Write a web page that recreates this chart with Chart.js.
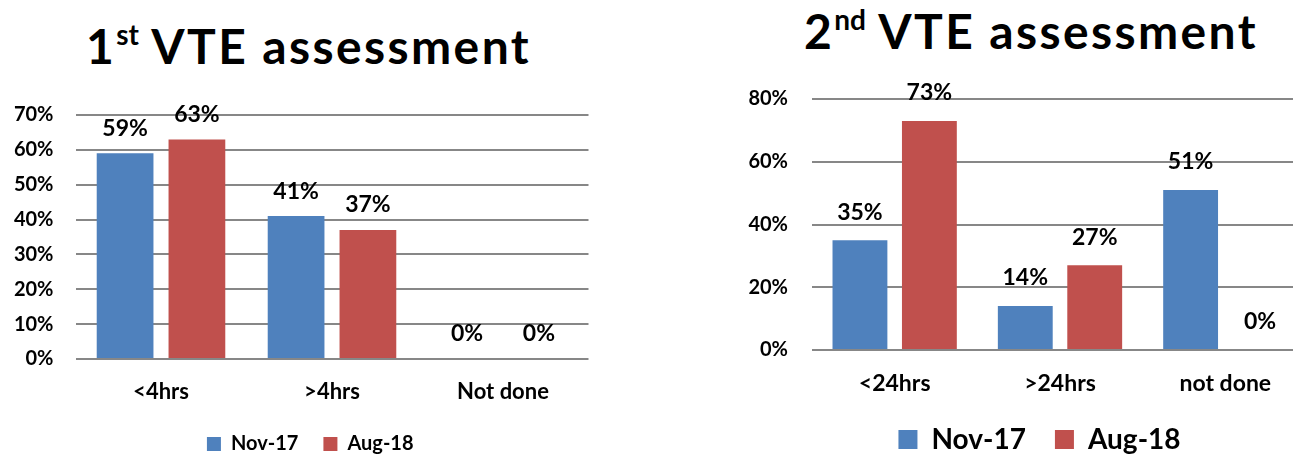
<!DOCTYPE html>
<html>
<head>
<meta charset="utf-8">
<script src="https://cdn.jsdelivr.net/npm/chart.js@4.4.0/dist/chart.umd.min.js"></script>
<style>
  html, body { margin: 0; padding: 0; background: #fff; overflow: hidden; }
  body { width: 1293px; height: 455px; position: relative; font-family: Lato, sans-serif; }
  .title { position: absolute; font-weight: bold; font-size: 48px; letter-spacing: 2.4px; color: #000; white-space: nowrap; line-height: 1; }
  .title sup { font-size: 28px; vertical-align: 19px; line-height: 0; letter-spacing: 0; }
  #t1 { left: 86px; top: 22px; }
  #t2 { left: 804px; top: 7px; }
  #c1 { position: absolute; left: 0; top: 81px; }
  #c2 { position: absolute; left: 700px; top: 62px; }
</style>
</head>
<body>
<div class="title" id="t1">1<sup>st</sup> VTE assessment</div>
<div class="title" id="t2">2<sup>nd</sup> VTE assessment</div>
<canvas id="c1" width="620" height="374"></canvas>
<canvas id="c2" width="640" height="393"></canvas>
<script>
  // series names
  const seriesNames = ['Nov-17', 'Aug-18'];
  const colors = ['#4F81BD', '#C0504D'];

  // first assessment
  const firstLabels = ['<4hrs', '>4hrs', 'Not done'];
  const firstNov17 = [59, 41, 0];
  const firstAug18 = [63, 37, 0];

  // second assessment
  const secondLabels = ['<24hrs', '>24hrs', 'not done'];
  const secondNov17 = [35, 14, 51];
  const secondAug18 = [73, 27, 0];

  // value labels above the bars, and a sideways nudge for the legend
  const extras = {
    id: 'extras',
    afterLayout(chart, args, opts) {
      if (chart.legend) {
        chart.legend.left += opts.legendShift;
        chart.legend.right += opts.legendShift;
      }
    },
    afterDatasetsDraw(chart, args, opts) {
      const ctx = chart.ctx;
      ctx.save();
      ctx.font = 'bold ' + opts.size + 'px Lato';
      ctx.fillStyle = '#000';
      ctx.textAlign = 'center';
      ctx.textBaseline = 'middle';
      chart.data.datasets.forEach((ds, i) => {
        chart.getDatasetMeta(i).data.forEach((bar, j) => {
          ctx.fillText(ds.data[j] + '%', bar.x, bar.y - opts.offset);
        });
      });
      ctx.restore();
    }
  };

  function makeChart(id, labels, nov, aug, s) {
    return new Chart(document.getElementById(id), {
      type: 'bar',
      data: {
        labels: labels,
        datasets: [
          { label: seriesNames[0], data: nov, backgroundColor: colors[0] },
          { label: seriesNames[1], data: aug, backgroundColor: colors[1] }
        ]
      },
      options: {
        responsive: false,
        animation: false,
        categoryPercentage: 0.84,
        barPercentage: 0.79,
        layout: { padding: s.padding },
        plugins: {
          title: { display: false },
          tooltip: { enabled: false },
          legend: {
            position: 'bottom',
            labels: {
              color: '#000',
              font: { family: 'Lato', weight: 'bold', size: s.legendSize },
              boxWidth: s.box,
              boxHeight: s.box,
              padding: s.legendPad
            }
          },
          extras: { size: s.valueSize, offset: s.offset, legendShift: s.legendShift }
        },
        scales: {
          x: {
            grid: { display: false, drawTicks: false },
            border: { display: false },
            afterFit: scale => { scale.height = s.xHeight; },
            ticks: {
              color: '#000',
              padding: s.xPad,
              font: { family: 'Lato', weight: 'bold', size: s.xSize }
            }
          },
          y: {
            min: 0,
            max: s.max,
            border: { display: false },
            grid: { color: '#878787', lineWidth: 2, drawTicks: false },
            afterFit: scale => { scale.width = s.yWidth; },
            ticks: {
              stepSize: s.step,
              color: '#000',
              padding: s.yPad,
              font: { family: 'Lato', weight: 'bold', size: s.ySize },
              callback: v => v + '%'
            }
          }
        }
      },
      plugins: [extras]
    });
  }

  makeChart('c1', firstLabels, firstNov17, firstAug18, {
    max: 70, step: 10,
    padding: { left: 12, right: 31.5, top: 34, bottom: -9 },
    legendSize: 20, box: 14, legendPad: 25, legendShift: 10,
    valueSize: 23, offset: 25,
    xSize: 22, xPad: 20, xHeight: 50,
    ySize: 20, yPad: 22, yWidth: 63.5
  });

  makeChart('c2', secondLabels, secondNov17, secondAug18, {
    max: 80, step: 20,
    padding: { left: 47, right: 32, top: 37, bottom: -8.5 },
    legendSize: 28, box: 19, legendPad: 29, legendShift: 12,
    valueSize: 23, offset: 28,
    xSize: 23, xPad: 20, xHeight: 46.5,
    ySize: 20, yPad: 24, yWidth: 65
  });
</script>
</body>
</html>
